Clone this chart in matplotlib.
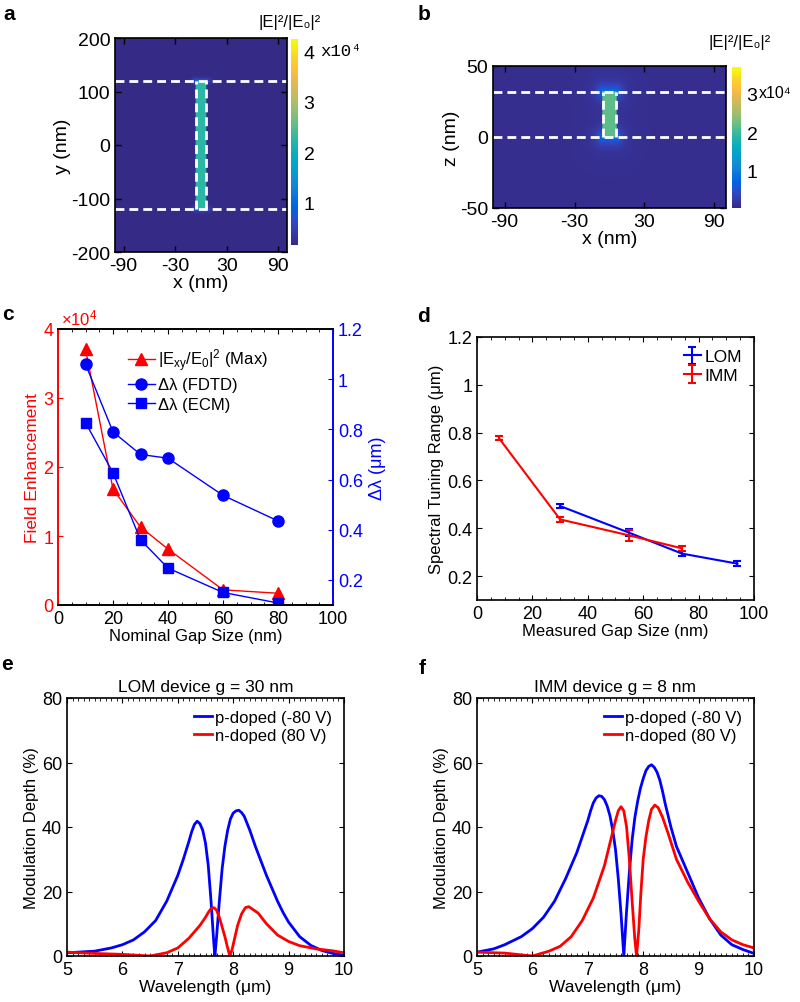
import numpy as np
import matplotlib
matplotlib.use("Agg")
import matplotlib.pyplot as plt
from matplotlib.colors import LinearSegmentedColormap
from matplotlib.ticker import MultipleLocator, FormatStrFormatter

plt.rcParams['font.family'] = ['Liberation Sans', 'DejaVu Sans']
plt.rcParams['font.size'] = 11.5
plt.rcParams['mathtext.default'] = 'regular'
plt.rcParams['axes.unicode_minus'] = False
plt.rcParams['xtick.direction'] = 'in'
plt.rcParams['ytick.direction'] = 'in'
plt.rcParams['axes.linewidth'] = 1.2

# ---- data ----
# panel a/b field maps (|E|^2/|E0|^2, units of 1e4)
gap_half = 6.0          # nm, half width of the gap
gap_len_a = 120.0       # nm, gap ends at y = +/-120
gap_top_b = 32.0        # nm, film thickness (z from 0 to 32)
field_gap_a = 2.25
field_gap_b = 2.15
field_bg = 0.12
clim_a = (0.17, 4.24)
clim_b = (0.05, 3.67)

# panel c
gap_nominal = [10, 20, 30, 40, 60, 80]
field_enh = [3.71, 1.68, 1.13, 0.81, 0.22, 0.17]      # x1e4
dl_fdtd = [1.06, 0.79, 0.70, 0.685, 0.537, 0.435]
dl_ecm = [0.827, 0.627, 0.36, 0.247, 0.15, 0.108]

# panel d
lom_gap = [30, 55, 74, 94]
lom_range = [0.493, 0.381, 0.294, 0.252]
lom_err = [0.008, 0.014, 0.01, 0.01]
imm_gap = [8, 30, 55, 74]
imm_range = [0.776, 0.437, 0.37, 0.316]
imm_err = [0.008, 0.012, 0.022, 0.01]

# panel e (LOM device g = 30 nm)
e_p_wl = [5.0, 5.5, 5.8, 6.0, 6.2, 6.4, 6.6, 6.8, 7.0, 7.1, 7.2, 7.25, 7.3, 7.35,
          7.4, 7.45, 7.5, 7.55, 7.6, 7.65, 7.67, 7.7, 7.75, 7.8, 7.85, 7.9, 7.95,
          8.0, 8.05, 8.1, 8.15, 8.2, 8.3, 8.4, 8.5, 8.6, 8.7, 8.8, 8.9, 9.0, 9.2,
          9.4, 9.6, 9.8, 10.0]
e_p_md = [1.0, 1.5, 2.5, 3.5, 5.0, 7.5, 11, 17, 25, 30, 35.5, 38.5, 40.8, 41.8,
          41, 39, 35, 28, 17, 4, 0, 6, 17, 27, 34, 39, 42.5, 44.3, 45, 45.2,
          44.5, 43.3, 39, 34, 29.5, 25, 21, 17, 13.5, 10.5, 6, 3.3, 1.7, 0.8, 0.2]
e_n_wl = [5.0, 5.5, 6.0, 6.5, 6.8, 7.0, 7.2, 7.4, 7.5, 7.55, 7.6, 7.65, 7.7,
          7.75, 7.8, 7.85, 7.9, 7.94, 7.98, 8.02, 8.08, 8.15, 8.22, 8.28, 8.35,
          8.45, 8.6, 8.8, 9.0, 9.2, 9.5, 9.8, 10.0]
e_n_md = [1.2, 0.8, 0.5, 0.0, 1.0, 2.5, 5.5, 9.5, 12, 13.5, 14.7, 15, 14.2, 12,
          9, 6, 2.5, 0, 2, 5, 9.5, 13, 15, 15.3, 14.5, 13.3, 10, 6.5, 4.5, 3.2,
          2.2, 1.6, 1.0]

# panel f (IMM device g = 8 nm)
f_p_wl = [5.0, 5.3, 5.5, 5.8, 6.0, 6.2, 6.4, 6.6, 6.8, 6.9, 7.0, 7.05, 7.1,
          7.15, 7.2, 7.25, 7.3, 7.35, 7.4, 7.45, 7.5, 7.55, 7.6, 7.65, 7.7,
          7.75, 7.8, 7.85, 7.9, 7.95, 8.0, 8.05, 8.1, 8.15, 8.2, 8.25, 8.3,
          8.35, 8.4, 8.5, 8.6, 8.7, 8.8, 9.0, 9.2, 9.4, 9.6, 9.8, 10.0]
f_p_md = [1.2, 2.2, 3.5, 6, 8.5, 12, 17, 24, 32, 37, 42, 45, 47.5, 49, 49.7,
          49.5, 48.5, 46.5, 43.5, 39, 33, 24, 13, 0, 14, 26, 36, 43, 48, 52, 55,
          57.5, 58.8, 59.3, 58.5, 57, 54.5, 51, 47, 40, 34, 30, 26, 18, 11.5,
          6.5, 3.5, 2, 0.8]
f_n_wl = [5.0, 5.5, 6.0, 6.3, 6.5, 6.7, 6.9, 7.1, 7.3, 7.4, 7.45, 7.5, 7.55,
          7.6, 7.65, 7.7, 7.75, 7.8, 7.85, 7.88, 7.92, 7.96, 8.0, 8.05, 8.1,
          8.15, 8.21, 8.27, 8.35, 8.45, 8.6, 8.8, 9.0, 9.2, 9.4, 9.6, 9.8, 10.0]
f_n_md = [1.2, 0.9, 0.0, 1.5, 3, 6, 11, 18, 28, 35, 38.5, 42, 45, 46.3, 45,
          40, 30, 17, 5, 0, 8, 20, 30, 37, 42, 45.5, 46.8, 46, 43, 38, 30, 23,
          17, 11.5, 7.5, 5, 3.5, 2.5]

# approximate MATLAB parula
parula = LinearSegmentedColormap.from_list('parula', [
    (0.2081, 0.1663, 0.5292), (0.2123, 0.2138, 0.6270), (0.1959, 0.2645, 0.7279),
    (0.1253, 0.3242, 0.8303), (0.0117, 0.3875, 0.8820), (0.0329, 0.4430, 0.8720),
    (0.0779, 0.5040, 0.8384), (0.0641, 0.5570, 0.8240), (0.0265, 0.6137, 0.8135),
    (0.0228, 0.6535, 0.7768), (0.0590, 0.6838, 0.7254), (0.1453, 0.7098, 0.6646),
    (0.2586, 0.7317, 0.5954), (0.3953, 0.7459, 0.5244), (0.5300, 0.7491, 0.4661),
    (0.6473, 0.7456, 0.4188), (0.7525, 0.7384, 0.3768), (0.8507, 0.7299, 0.3360),
    (0.9450, 0.7261, 0.2886), (0.9990, 0.7653, 0.2164), (0.9789, 0.8271, 0.1633),
    (0.9598, 0.9218, 0.0948), (0.9763, 0.9831, 0.0538)])

W, H = 800, 1003
TICK_MAP = 14
TICK = 13


def box(l, t, r, b):
    return [l / W, 1 - b / H, (r - l) / W, (b - t) / H]


fig = plt.figure(figsize=(8, 10.03), dpi=100)


def field_map(xs, ys, gap_y0, gap_y1, gap_val):
    X, Y = np.meshgrid(xs, ys)
    f = np.full(X.shape, field_bg)
    # soft glow around the gap ends
    for yend in (gap_y0, gap_y1):
        d = np.hypot(np.clip(np.abs(X) - gap_half, 0, None), Y - yend)
        f += 0.9 * np.exp(-d / 4.0)
    inside = (np.abs(X) <= gap_half) & (Y >= gap_y0) & (Y <= gap_y1)
    f[inside] = gap_val
    return f


def style_map(ax):
    ax.tick_params(top=True, right=True, labelsize=TICK_MAP, length=4, width=1)
    ax.set_xticks([-90, -30, 30, 90])
    ax.set_xlabel('x (nm)', fontsize=14, labelpad=0)


# ---- a ----
ax = fig.add_axes(box(115, 39, 287, 253))
xs = np.linspace(-100, 100, 601)
ys = np.linspace(-200, 200, 801)
fa = field_map(xs, ys, -gap_len_a, gap_len_a, field_gap_a)
im = ax.imshow(fa, extent=[-100, 100, -200, 200], origin='lower', cmap=parula,
               vmin=clim_a[0], vmax=clim_a[1], aspect='auto', interpolation='bilinear')
dash = dict(color='white', lw=2, ls=(0, (3.2, 1.8)))
for yv in (-gap_len_a, gap_len_a):
    ax.axhline(yv, **dash)
for xv in (-gap_half, gap_half):
    ax.plot([xv, xv], [-gap_len_a, gap_len_a], **dash)
ax.set_xlim(-100, 100)
ax.set_ylim(-200, 200)
ax.set_yticks([-200, -100, 0, 100, 200])
style_map(ax)
ax.set_ylabel('y (nm)', fontsize=14, labelpad=0)
cax = fig.add_axes(box(291, 40, 298, 246))
cb = fig.colorbar(im, cax=cax, ticks=[1, 2, 3, 4])
cb.outline.set_visible(False)
cb.ax.tick_params(length=0, labelsize=TICK_MAP, pad=4)
fig.text(258 / W, 1 - 23 / H, '|E|²/|E₀|²', fontsize=12, va='center')
fig.text(320 / W, 1 - 52 / H, 'x10⁴', fontsize=12.5, va='center',
         family=['Liberation Mono', 'DejaVu Sans Mono'])

# ---- b ----
ax = fig.add_axes(box(493, 67, 726, 209))
zs = np.linspace(-50, 50, 401)
fb = field_map(xs, zs, 0.0, gap_top_b, field_gap_b)
im = ax.imshow(fb, extent=[-100, 100, -50, 50], origin='lower', cmap=parula,
               vmin=clim_b[0], vmax=clim_b[1], aspect='auto', interpolation='bilinear')
for yv in (0, gap_top_b):
    ax.axhline(yv, **dash)
for xv in (-gap_half, gap_half):
    ax.plot([xv, xv], [0, gap_top_b], **dash)
ax.set_xlim(-100, 100)
ax.set_ylim(-50, 50)
ax.set_yticks([-50, 0, 50])
style_map(ax)
ax.set_ylabel('z (nm)', fontsize=14, labelpad=0)
cax = fig.add_axes(box(732, 68, 741, 209))
cb = fig.colorbar(im, cax=cax, ticks=[1, 2, 3])
cb.outline.set_visible(False)
cb.ax.tick_params(length=0, labelsize=TICK_MAP, pad=4)
fig.text(708 / W, 1 - 42 / H, '|E|²/|E₀|²', fontsize=12, va='center')
fig.text(759 / W, 1 - 94 / H, 'x10⁴', fontsize=11.5, va='center')

# ---- c ----
ax = fig.add_axes(box(58, 330, 333, 606))
l1, = ax.plot(gap_nominal, field_enh, '-^', color='red', ms=8, lw=1)
ax.set_xlim(0, 100)
ax.set_ylim(0, 4)
ax.set_yticks([0, 1, 2, 3, 4])
ax.xaxis.set_minor_locator(MultipleLocator(5))
ax.tick_params(axis='x', top=True, labelsize=TICK)
ax.tick_params(axis='x', which='minor', top=True, length=2)
ax.tick_params(axis='y', colors='red', labelsize=TICK)
ax.set_ylabel('Field Enhancement', color='red', labelpad=2, fontsize=12.5)
ax.set_xlabel('Nominal Gap Size (nm)', labelpad=1, fontsize=12)
ax.text(0.01, 1.005, '×10$^4$', color='red', transform=ax.transAxes, va='bottom',
        fontsize=12)
ax2 = ax.twinx()
l2, = ax2.plot(gap_nominal, dl_fdtd, '-o', color='blue', ms=8, lw=1)
l3, = ax2.plot(gap_nominal, dl_ecm, '-s', color='blue', ms=7, lw=1)
ax2.set_ylim(0.1, 1.2)
ax2.set_yticks([0.2, 0.4, 0.6, 0.8, 1.0, 1.2])
ax2.yaxis.set_major_formatter(FormatStrFormatter('%g'))
ax2.tick_params(axis='y', colors='blue', labelsize=TICK)
ax2.set_ylabel('Δλ (μm)', color='blue', rotation=90, labelpad=4, fontsize=13)
for a_ in (ax, ax2):
    a_.spines['left'].set_color('red')
    a_.spines['right'].set_color('blue')
ax2.legend([l1, l2, l3], ['$|E_{xy}/E_0|^2$ (Max)', 'Δλ (FDTD)', 'Δλ (ECM)'],
           loc='upper left', bbox_to_anchor=(0.2, 0.99), frameon=False,
           handlelength=1.6, handletextpad=0.2, labelspacing=0.25, fontsize=12)

# ---- d ----
ax = fig.add_axes(box(477, 338, 754, 601))
ax.errorbar(lom_gap, lom_range, yerr=lom_err, color='blue', lw=1.5, capsize=3,
            capthick=1.5, label='LOM')
ax.errorbar(imm_gap, imm_range, yerr=imm_err, color='red', lw=1.5, capsize=3,
            capthick=1.5, label='IMM')
ax.set_xlim(0, 100)
ax.set_ylim(0.1, 1.2)
ax.set_yticks([0.2, 0.4, 0.6, 0.8, 1.0, 1.2])
ax.yaxis.set_major_formatter(FormatStrFormatter('%g'))
ax.xaxis.set_minor_locator(MultipleLocator(5))
ax.tick_params(top=True, right=True, labelsize=TICK)
ax.tick_params(axis='x', which='minor', top=True, length=2)
ax.set_xlabel('Measured Gap Size (nm)', labelpad=1, fontsize=12)
ax.set_ylabel('Spectral Tuning Range (μm)', labelpad=2, fontsize=12)
ax.legend(loc='upper right', frameon=False, handlelength=1.0, handletextpad=0.2,
          labelspacing=0.2, borderaxespad=0.3, fontsize=12.5)

# ---- e, f ----
for rect, title, pw, pm, nw, nm in [
        (box(67, 699, 344, 957), 'LOM device g = 30 nm', e_p_wl, e_p_md, e_n_wl, e_n_md),
        (box(477, 699, 754, 957), 'IMM device g = 8 nm', f_p_wl, f_p_md, f_n_wl, f_n_md)]:
    ax = fig.add_axes(rect)
    ax.plot(pw, pm, color='blue', lw=2, label='p-doped (-80 V)')
    ax.plot(nw, nm, color='red', lw=2, label='n-doped (80 V)')
    ax.set_xlim(5, 10)
    ax.set_ylim(0, 80)
    ax.set_yticks([0, 20, 40, 60, 80])
    ax.xaxis.set_minor_locator(MultipleLocator(0.1))
    ax.tick_params(top=True, right=True, labelsize=TICK)
    ax.tick_params(axis='x', which='minor', top=True, length=2)
    ax.set_title(title, fontsize=12.5, pad=5)
    ax.set_xlabel('Wavelength (μm)', labelpad=1, fontsize=12.5)
    ax.set_ylabel('Modulation Depth (%)', labelpad=2, fontsize=12)
    ax.legend(loc='upper right', frameon=False, handlelength=1.1, handletextpad=0.2,
              labelspacing=0.2, borderaxespad=0.3, fontsize=12)

# panel letters
for lx, ly, s in [(9, 15, 'a'), (424, 14, 'b'), (8, 314, 'c'), (423, 317, 'd'),
                  (7, 665, 'e'), (422, 669, 'f')]:
    fig.text(lx / W, 1 - ly / H, s, fontsize=15, fontweight='bold', ha='center',
             va='center')

fig.savefig('out.png', dpi=100)
